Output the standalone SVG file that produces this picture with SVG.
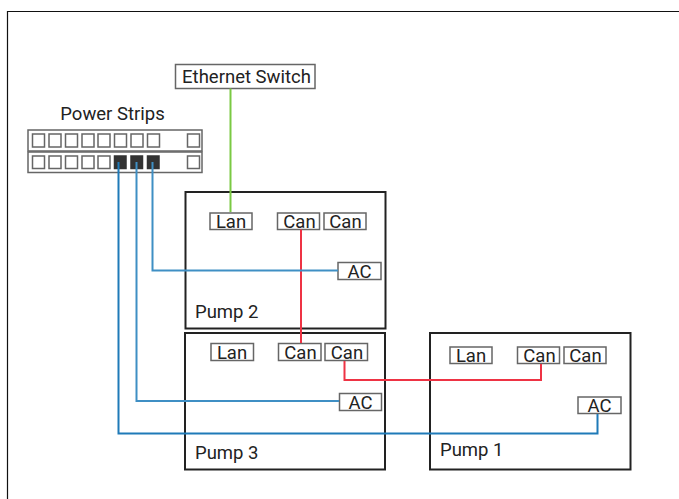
<svg xmlns="http://www.w3.org/2000/svg" width="679" height="499" viewBox="0 0 679 499">
<style>
text{font-family:Roboto,"Liberation Sans",sans-serif;fill:#222;font-size:18.500px}
.m{text-anchor:middle}
.p{fill:#fff;stroke:#222;stroke-width:2}
.b{fill:#fff;stroke:#666;stroke-width:1.5}
.s{fill:#fff;stroke:#666;stroke-width:1.5}
.d{fill:#333;stroke:#333;stroke-width:1.5}
.c{fill:none;stroke-width:2}
</style>
<rect width="679" height="499" fill="#fff"/>
<path d="M7.5 499V11.5H679" fill="none" stroke="#111" stroke-width="1.2"/>
<g id="pump2"><rect class="p" x="185.500" y="192" width="200" height="136.500"/><text x="195" y="318">Pump 2</text></g>
<g id="pump3"><rect class="p" x="185" y="333" width="200" height="136.500"/><text x="195" y="459">Pump 3</text></g>
<g id="pump1"><rect class="p" x="430" y="333" width="200.500" height="136.500"/><text x="440" y="456">Pump 1</text></g>
<g id="ethernet-switch"><rect class="b" x="175.500" y="64.500" width="139.500" height="24"/><text class="m" x="246.500" y="83">Ethernet Switch</text></g>
<g id="power-strips">
<text class="m" x="112.500" y="120">Power Strips</text>
<rect class="b" x="28" y="130" width="174" height="21"/><rect class="b" x="28" y="152" width="174" height="20.500"/>
<rect class="s" x="32.500" y="134" width="12" height="13"/><rect class="s" x="49" y="134" width="12" height="13"/><rect class="s" x="65.500" y="134" width="12" height="13"/><rect class="s" x="82" y="134" width="12" height="13"/><rect class="s" x="98" y="134" width="12" height="13"/><rect class="s" x="114.500" y="134" width="12" height="13"/><rect class="s" x="131" y="134" width="12" height="13"/><rect class="s" x="147.500" y="134" width="12" height="13"/><rect class="s" x="187.500" y="134" width="12" height="13"/>
<rect class="s" x="32.500" y="156" width="12" height="12.500"/><rect class="s" x="49" y="156" width="12" height="12.500"/><rect class="s" x="65.500" y="156" width="12" height="12.500"/><rect class="s" x="82" y="156" width="12" height="12.500"/><rect class="s" x="98" y="156" width="12" height="12.500"/><rect class="d" x="114.500" y="156" width="11.500" height="12.500"/><rect class="d" x="131" y="156" width="11.500" height="12.500"/><rect class="d" x="147.500" y="156" width="11.500" height="12.500"/><rect class="s" x="187.500" y="156" width="12" height="12.500"/>
</g>
<g id="pump2-ports">
<rect class="b" x="210" y="213" width="42" height="16.500"/><text class="m" x="231" y="228">Lan</text>
<rect class="b" x="277.500" y="213" width="42" height="16.500"/><text class="m" x="299.500" y="228">Can</text>
<rect class="b" x="324" y="213" width="42" height="16.500"/><text class="m" x="345.500" y="228">Can</text>
<rect class="b" x="338" y="262.500" width="43" height="17"/><text class="m" x="359.500" y="278">AC</text>
</g>
<g id="pump3-ports">
<rect class="b" x="211" y="343.500" width="42.500" height="17"/><text class="m" x="232" y="358.500">Lan</text>
<rect class="b" x="278.500" y="343.500" width="42.500" height="17"/><text class="m" x="300.500" y="358.500">Can</text>
<rect class="b" x="325" y="343.500" width="42.500" height="17"/><text class="m" x="347" y="358.500">Can</text>
<rect class="b" x="339.500" y="393.500" width="42" height="17"/><text class="m" x="360.500" y="408.500">AC</text>
</g>
<g id="pump1-ports">
<rect class="b" x="450" y="347" width="42" height="16.500"/><text class="m" x="471" y="362">Lan</text>
<rect class="b" x="517.500" y="347" width="42" height="16.500"/><text class="m" x="539.500" y="362">Can</text>
<rect class="b" x="564" y="347" width="42" height="16.500"/><text class="m" x="585.500" y="362">Can</text>
<rect class="b" x="578" y="397" width="43" height="16.500"/><text class="m" x="599.500" y="412">AC</text>
</g>
<g id="connectors">
<path class="c" stroke="#7ac943" d="M230.500 88.500V212"/>
<path class="c" stroke="#ee3344" d="M301 229.500V343"/>
<path class="c" stroke="#ee3344" d="M344.500 361V380H541V364"/>
<path class="c" stroke="#3f8fc4" d="M152.500 162V270.500H338"/>
<path class="c" stroke="#3f8fc4" d="M136.500 162V401H339"/>
<path class="c" stroke="#1f7ab8" d="M118.500 162V433.500H597.500V414"/>
</g>
</svg>
